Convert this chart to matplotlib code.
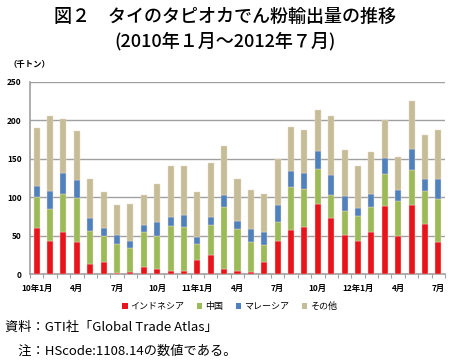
import numpy as np
import matplotlib
matplotlib.use("Agg")
import matplotlib.pyplot as plt
from matplotlib.patches import Patch

plt.rcParams['font.family'] = ['Noto Sans CJK JP', 'DejaVu Sans']

# 2010年1月 ~ 2012年7月 (千トン)
indonesia = [60.5, 43.3, 55.4, 42.4, 13.8, 15.6, 2.2, 3.5, 10.0, 6.5, 4.8, 4.3,
             18.6, 24.7, 6.9, 3.9, 3.0, 15.6, 43.3, 58.0, 61.9, 91.7, 72.7, 51.0,
             43.3, 54.5, 88.7, 50.2, 90.4, 65.7, 42.0]
china = [40.3, 41.9, 49.3, 56.2, 42.4, 33.7, 36.7, 31.1, 44.9, 43.7, 58.3, 57.7,
         21.2, 39.3, 80.5, 54.9, 38.5, 22.9, 25.0, 55.8, 48.8, 45.0, 30.2, 31.6,
         32.4, 32.4, 41.5, 45.4, 45.0, 42.0, 55.3]
malaysia = [13.8, 23.4, 26.8, 23.4, 17.3, 11.3, 12.6, 8.7, 8.7, 17.3, 11.3, 14.6,
            9.1, 10.4, 15.1, 10.4, 16.9, 16.4, 22.1, 20.3, 20.3, 23.3, 26.4, 19.0,
            10.4, 17.8, 20.8, 13.8, 27.7, 16.4, 26.0]
others = [74.8, 96.8, 69.6, 63.6, 50.2, 46.2, 38.0, 48.0, 39.3, 49.7, 66.6, 64.0,
          57.9, 70.6, 64.0, 54.5, 50.6, 49.8, 58.8, 57.1, 56.7, 52.8, 76.1, 59.7,
          54.5, 54.0, 49.3, 42.8, 62.2, 57.1, 63.6]

tick_labels = ['10年1月', '4月', '7月', '10月', '11年1月', '4月', '7月', '10月',
               '12年1月', '4月', '7月']

series = [('インドネシア', indonesia, '#E8141C'),
          ('中国', china, '#9BBB59'),
          ('マレーシア', malaysia, '#4F81BD'),
          ('その他', others, '#C4BD97')]

fig = plt.figure(figsize=(4.5, 3.64), dpi=100)
ax = fig.add_axes([0.0667, 0.2464, 0.9222, 0.529])

x = np.arange(len(indonesia))
bottom = np.zeros(len(x))
for name, vals, col in series:
    ax.bar(x, vals, width=0.45, bottom=bottom, color=col, edgecolor='#f2d8c8',
           linewidth=0.3, zorder=3)
    bottom += np.array(vals)

ax.set_xlim(-0.5, len(x) - 0.5)
ax.set_ylim(0, 250)
ax.set_yticks(range(0, 251, 50))
ax.yaxis.grid(True, color='#a0a0a0', linewidth=1.0, zorder=0)
ax.tick_params(axis='y', length=0, labelsize=6, pad=6)
for lab in ax.get_yticklabels():
    lab.set_fontweight('bold')

ax.set_xticks(x[::3])
ax.set_xticklabels(tick_labels, fontsize=6, fontweight='bold')
ax.set_xticks(np.arange(-0.5, len(x), 1), minor=True)
ax.tick_params(axis='x', which='major', length=0, pad=7)
ax.tick_params(axis='x', which='minor', length=3, color='#a0a0a0', width=0.8)

for s in ['top', 'right']:
    ax.spines[s].set_visible(False)
for s in ['left', 'bottom']:
    ax.spines[s].set_color('#a0a0a0')
    ax.spines[s].set_linewidth(1.2)

fig.text(0.018, 0.822, '（千トン）', fontsize=6, fontweight='bold', va='center')

handles = [Patch(facecolor=c, label=n) for n, v, c in series]
fig.legend(handles=handles, loc='center', bbox_to_anchor=(0.51, 0.158), ncol=4,
           frameon=False, fontsize=6.5, handlelength=0.6, handleheight=0.6,
           handletextpad=0.3, columnspacing=1.4)

fig.text(0.5, 0.953, '図２　タイのタピオカでん粉輸出量の推移', ha='center', va='center',
         fontsize=13, fontweight='medium')
fig.text(0.5, 0.888, '(2010年１月～2012年７月)', ha='center', va='center',
         fontsize=13, fontweight='medium')

fig.text(0.012, 0.1, '資料：GTI社「Global Trade Atlas」', va='center', fontsize=9.5)
fig.text(0.012, 0.036, '　注：HScode:1108.14の数値である。', va='center', fontsize=9.5)

fig.savefig('out.png', dpi=100)
